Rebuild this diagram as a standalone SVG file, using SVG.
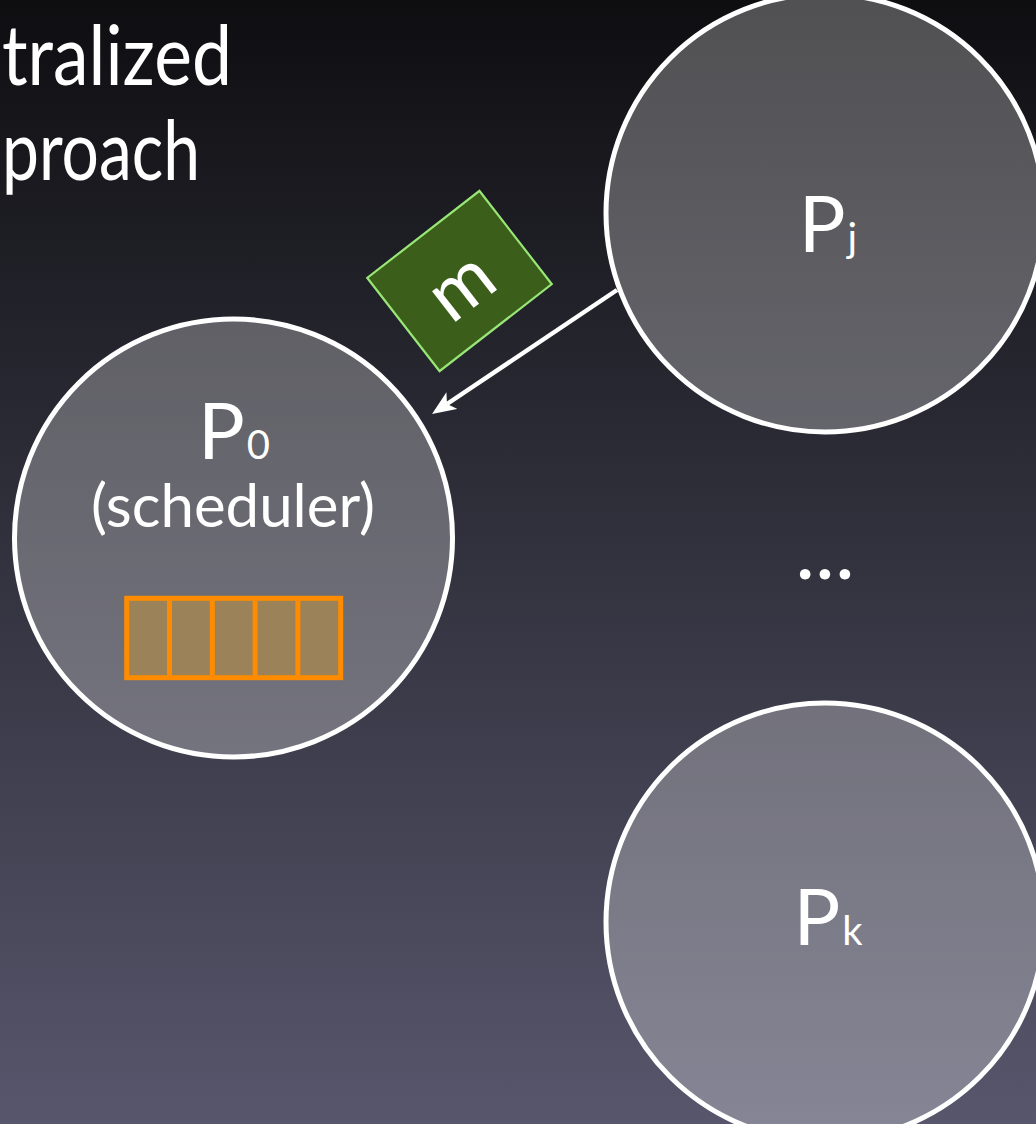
<svg xmlns="http://www.w3.org/2000/svg" width="1036" height="1124" viewBox="0 0 1036 1124">
  <defs>
    <linearGradient id="bg" x1="0" y1="0" x2="0" y2="1">
      <stop offset="0" stop-color="#0e0e11"/>
      <stop offset="1" stop-color="#57566c"/>
    </linearGradient>
    <marker id="arrow" markerUnits="userSpaceOnUse" viewBox="0 0 24 20" refX="6" refY="10" markerWidth="24" markerHeight="20" orient="auto">
      <path d="M0,0 L24,10 L0,20 L6,10 Z" fill="#ffffff"/>
    </marker>
    <style>
      .proc { fill: #ffffff; fill-opacity: 0.28; stroke: #ffffff; stroke-width: 5; }
      .lbl { font-family: Lato, "Liberation Sans", sans-serif; fill: #ffffff; }
      .big { font-size: 78px; }
      .sub { font-size: 40px; }
      .cell { fill: #9b8258; stroke: #ff8c00; stroke-width: 5; }
    </style>
  </defs>

  <rect x="0" y="0" width="1036" height="1124" fill="url(#bg)"/>

  <g id="title" class="lbl" font-size="84">
    <text x="2" y="85" textLength="230" lengthAdjust="spacingAndGlyphs">tralized</text>
    <text x="2" y="180" textLength="198" lengthAdjust="spacingAndGlyphs">proach</text>
  </g>

  <g id="connectors">
    <line x1="617" y1="290" x2="447" y2="404" stroke="#ffffff" stroke-width="4.5" marker-end="url(#arrow)"/>
  </g>

  <g id="P0">
    <circle class="proc" cx="233.5" cy="538" r="219"/>
    <text class="lbl big" x="234" y="459" text-anchor="middle">P<tspan class="sub" dx="2">0</tspan></text>
    <text class="lbl" x="233" y="527" text-anchor="middle" font-size="60">(scheduler)</text>
    <g id="queue">
      <rect class="cell" x="126.7" y="598.3" width="214" height="79.4"/>
      <line x1="169.5" y1="598.3" x2="169.5" y2="677.7" stroke="#ff8c00" stroke-width="5"/>
      <line x1="212.3" y1="598.3" x2="212.3" y2="677.7" stroke="#ff8c00" stroke-width="5"/>
      <line x1="255.1" y1="598.3" x2="255.1" y2="677.7" stroke="#ff8c00" stroke-width="5"/>
      <line x1="297.9" y1="598.3" x2="297.9" y2="677.7" stroke="#ff8c00" stroke-width="5"/>
    </g>
  </g>

  <g id="Pj">
    <circle class="proc" cx="825" cy="213" r="219"/>
    <text class="lbl big" x="828" y="252" text-anchor="middle">P<tspan class="sub" dx="2">j</tspan></text>
  </g>

  <g id="ellipsis">
    <text class="lbl" x="825" y="579" text-anchor="middle" font-size="84">...</text>
  </g>

  <g id="Pk">
    <circle class="proc" cx="825" cy="922" r="219"/>
    <text class="lbl big" x="828" y="945" text-anchor="middle">P<tspan class="sub" dx="2">k</tspan></text>
  </g>

  <g id="message" transform="translate(459.5,281) rotate(-37.8)">
    <rect x="-71" y="-59" width="142" height="118" fill="#3b5f1b" stroke="#98e676" stroke-width="2.2"/>
    <text class="lbl" x="-2" y="30" text-anchor="middle" font-size="76">m</text>
  </g>
</svg>
